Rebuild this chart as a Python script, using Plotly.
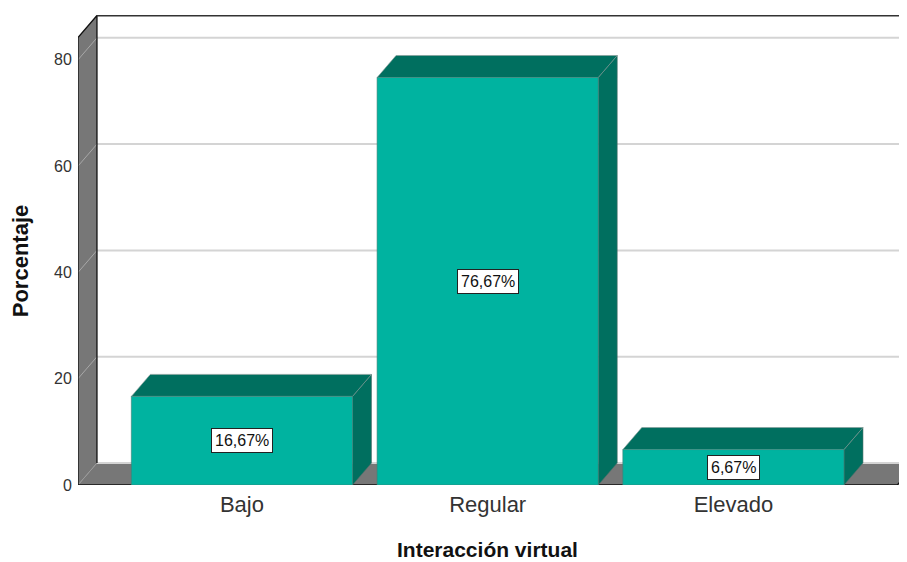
import plotly.graph_objects as go

# ---- data ----
categories = ["Bajo", "Regular", "Elevado"]
percentages = [16.67, 76.67, 6.67]
y_ticks = [0, 20, 40, 60, 80]
x_title = "Interacción virtual"
y_title = "Porcentaje"

# ---- styling / geometry constants ----
FRONT = "#00B3A0"
DARK = "#006F5F"
WALL = "#777777"
GRID = "#D4D4D4"
FONT = "Liberation Sans, Arial, sans-serif"
BAR_W = 0.9
DX = 0.0772          # depth offset in category units
DY = 4.14            # depth offset in value units
X_LO, X_HI = -0.667, 2.667
Y_TOP = 84.2
PX_PER_CAT = 245.75
OFF = 8              # page body margin of the html page
W, H = 907 - OFF, 562 - OFF
ML, MR, MT, MB = 78 - OFF, 0, 15 - OFF, 562 - 485
x_range = [X_LO, X_LO + (W - ML - MR) / PX_PER_CAT]
y_range = [0, (H - MT - MB) / 5.315]

fig = go.Figure()


def poly(xs, ys, fill, line_color=None, lw=0):
    fig.add_trace(go.Scatter(
        x=xs + [xs[0]], y=ys + [ys[0]], mode="lines", fill="toself",
        fillcolor=fill, line=dict(color=line_color or fill, width=lw),
        hoverinfo="skip", showlegend=False))


def seg(xs, ys, color, lw):
    fig.add_trace(go.Scatter(
        x=xs, y=ys, mode="lines", line=dict(color=color, width=lw),
        hoverinfo="skip", showlegend=False))


# left wall
poly([X_LO, X_LO, X_LO + DX, X_LO + DX], [0, Y_TOP, Y_TOP + DY, DY], WALL)
# floor
poly([X_LO, X_LO + DX, X_HI + DX + 0.5, X_HI], [0, DY, DY, 0], WALL)

# gridlines: back wall and diagonals across the left wall
for t in y_ticks:
    seg([X_LO, X_LO + DX], [t, t + DY], "#A8A8A8" if t else "#9A9A9A", 1)
    seg([X_LO + DX, X_HI + DX + 0.5], [t + DY, t + DY], GRID, 2)

# edges of the box
seg([X_LO + DX, X_LO + DX, X_LO, X_LO, X_HI, X_HI + DX],
    [DY, Y_TOP + DY, Y_TOP, 0, 0, DY], "#111111", 1.3)
seg([X_LO + DX, X_HI + DX + 0.5], [Y_TOP + DY, Y_TOP + DY], "#333333", 2)

# bars
for i, v in enumerate(percentages):
    x0, x1 = i - BAR_W / 2, i + BAR_W / 2
    poly([x1, x1, x1 + DX, x1 + DX], [0, v, v + DY, DY], DARK, "#4F6F69", 0.6)
    poly([x0, x0 + DX, x1 + DX, x1], [v, v + DY, v + DY, v], DARK, "#8A9C98", 0.6)
    poly([x0, x0, x1, x1], [0, v, v, 0], FRONT, "#3E7F76", 0.6)

annotations = []
for i, v in enumerate(percentages):
    annotations.append(dict(
        x=i, y=v / 2, xref="x", yref="y", showarrow=False,
        text=f"{v:.2f}".replace(".", ",") + "%",
        font=dict(family=FONT, size=16, color="#111111"),
        bgcolor="white", bordercolor="#222222", borderwidth=1, borderpad=3))

annotations.append(dict(
    x=(20 - 78) / (W - ML - MR), xref="paper", y=Y_TOP / 2, yref="y",
    text=f"<b>{y_title}</b>", textangle=-90, showarrow=False,
    xanchor="center", yanchor="middle",
    font=dict(family=FONT, size=22, color="#111111")))
annotations.append(dict(
    x=1, xref="x", y=-(549 - 485) / (H - MT - MB), yref="paper",
    text=f"<b>{x_title}</b>", showarrow=False,
    xanchor="center", yanchor="middle",
    font=dict(family=FONT, size=21, color="#111111")))

fig.update_layout(
    width=W, height=H,
    margin=dict(l=ML, r=MR, t=MT, b=MB),
    paper_bgcolor="white", plot_bgcolor="white",
    annotations=annotations,
    xaxis=dict(range=x_range, tickvals=list(range(len(categories))),
               ticktext=categories, showgrid=False, zeroline=False,
               showline=False, ticks="outside", ticklen=0,
               tickcolor="rgba(0,0,0,0)",
               tickfont=dict(family=FONT, size=22, color="#333333"),
               fixedrange=True),
    yaxis=dict(range=y_range, tickvals=y_ticks, showgrid=False,
               zeroline=False, showline=False, ticks="outside", ticklen=2,
               tickcolor="rgba(0,0,0,0)",
               tickfont=dict(family=FONT, size=16, color="#333333"),
               fixedrange=True),
)

fig.write_html("out.html")
